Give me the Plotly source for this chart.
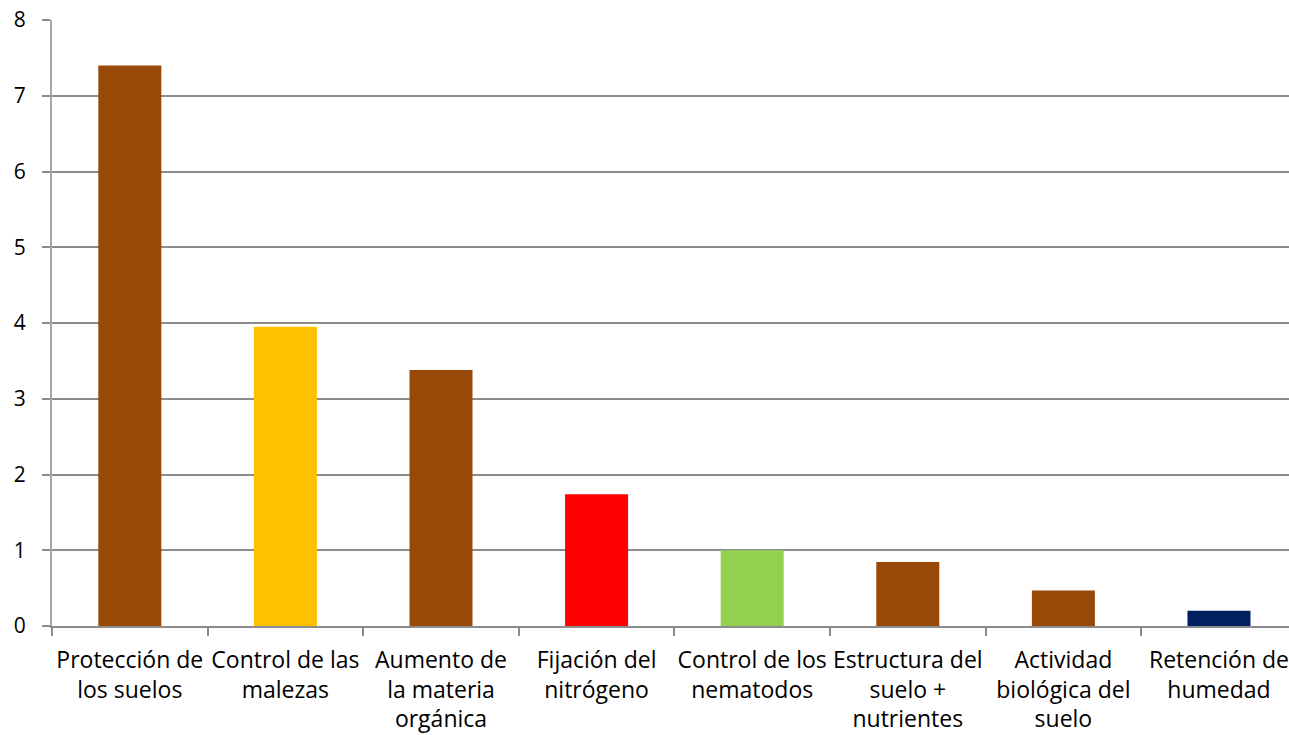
import plotly.graph_objects as go

categories = ["Protección de<br>los suelos", "Control de las<br>malezas", "Aumento de<br>la materia<br>orgánica",
              "Fijación del<br>nitrógeno", "Control de los<br>nematodos", "Estructura del<br>suelo +<br>nutrientes",
              "Actividad<br>biológica del<br>suelo", "Retención de<br>humedad"]
values = [7.4, 3.95, 3.38, 1.74, 1.0, 0.845, 0.47, 0.2]
colors = ["#984807", "#FFC000", "#984807", "#FF0000", "#92D050", "#984807", "#984807", "#002060"]
y_ticks = [0, 1, 2, 3, 4, 5, 6, 7, 8]

FONT = "Open Sans"

fig = go.Figure(go.Bar(x=categories, y=values, marker=dict(color=colors, line=dict(width=0))))

fig.update_layout(
    width=1289, height=735,
    margin=dict(l=52, r=0, t=20, b=109, autoexpand=False),
    paper_bgcolor="white", plot_bgcolor="white",
    bargap=0.595,
    showlegend=False,
    font=dict(family=FONT, size=21, color="black"),
)
fig.update_xaxes(
    type="category", range=[-0.5, 7.45], automargin=False,
    tickson="boundaries", ticks="outside", ticklen=8, tickwidth=2, tickcolor="#8c8c8c",
    showline=True, linecolor="#8c8c8c", linewidth=2,
    showgrid=False,
    tickfont=dict(family=FONT, size=23, color="black"),
    tickangle=0,
    ticklabelstandoff=12,
)
fig.update_yaxes(
    range=[0, 8], tickvals=y_ticks, automargin=False,
    ticks="outside", ticklen=8, tickwidth=2, tickcolor="#8c8c8c",
    showline=True, linecolor="#a6a6a6", linewidth=2,
    showgrid=True, gridcolor="#8c8c8c", gridwidth=2,
    zeroline=False,
    tickfont=dict(family=FONT, size=21, color="black"),
    ticklabelstandoff=12,
)

fig.write_html("out.html", config={"displayModeBar": False},
               post_script="document.body.style.margin='0';document.body.style.overflow='hidden';")
